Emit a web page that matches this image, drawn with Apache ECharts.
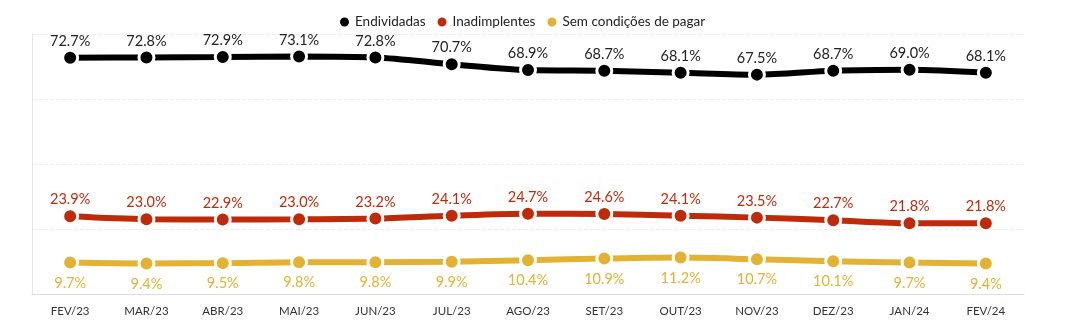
<!DOCTYPE html>
<html><head><meta charset="utf-8">
<script src="https://cdn.jsdelivr.net/npm/echarts@6/dist/echarts.min.js"></script>
<style>html,body{margin:0;padding:0;background:#fff}#c{width:1075px;height:336px}</style>
</head><body><div id="c"></div>
<script>
const categories = ['FEV/23','MAR/23','ABR/23','MAI/23','JUN/23','JUL/23','AGO/23','SET/23','OUT/23','NOV/23','DEZ/23','JAN/24','FEV/24'];
const endividadas = [72.7,72.8,72.9,73.1,72.8,70.7,68.9,68.7,68.1,67.5,68.7,69.0,68.1];
const inadimplentes = [23.9,23.0,22.9,23.0,23.2,24.1,24.7,24.6,24.1,23.5,22.7,21.8,21.8];
const semCondicoes = [9.7,9.4,9.5,9.8,9.8,9.9,10.4,10.9,11.2,10.7,10.1,9.7,9.4];
const names = ['Endividadas','Inadimplentes','Sem condições de pagar'];
const colors = ['#000000','#BF2A0A','#E3B232'];
const font = 'Lato';
function mk(name, data, color, pos, dist){
  return {
    name, type:'line', data, smooth:0.3, symbol:'circle', symbolSize:15,
    lineStyle:{width:6,color},
    itemStyle:{color, borderColor:'#fff', borderWidth:3},
    label:{show:true, position:pos, distance:dist, color: color==='#000000'?'#222':color, fontFamily:font, fontSize:14.5,
      formatter:p=>p.value.toFixed(1)+'%'}
  };
}
const chart = echarts.init(document.getElementById('c'));
chart.setOption({
  animation:false,
  color:colors,
  legend:{top:10, left:333, icon:'circle', itemWidth:11, itemHeight:11, itemGap:10,
    textStyle:{fontFamily:font, fontSize:13.5, color:'#222'}, data:names},
  grid:{left:32, right:51, top:34, bottom:42},
  xAxis:{type:'category', data:categories, boundaryGap:true,
    axisLine:{lineStyle:{color:'#ddd'}}, axisTick:{show:false},
    axisLabel:{color:'#333', fontFamily:font, fontSize:11.5, margin:11}},
  yAxis:{type:'value', min:0, max:80, interval:20,
    axisLine:{show:true, lineStyle:{color:'#e4e4e4'}}, axisLabel:{show:false}, axisTick:{show:false},
    splitLine:{lineStyle:{type:'dashed', color:'#eee'}}},
  series:[mk(names[0],endividadas,colors[0],'top',0), mk(names[1],inadimplentes,colors[1],'top',0), mk(names[2],semCondicoes,colors[2],'bottom',4)]
});
</script></body></html>
